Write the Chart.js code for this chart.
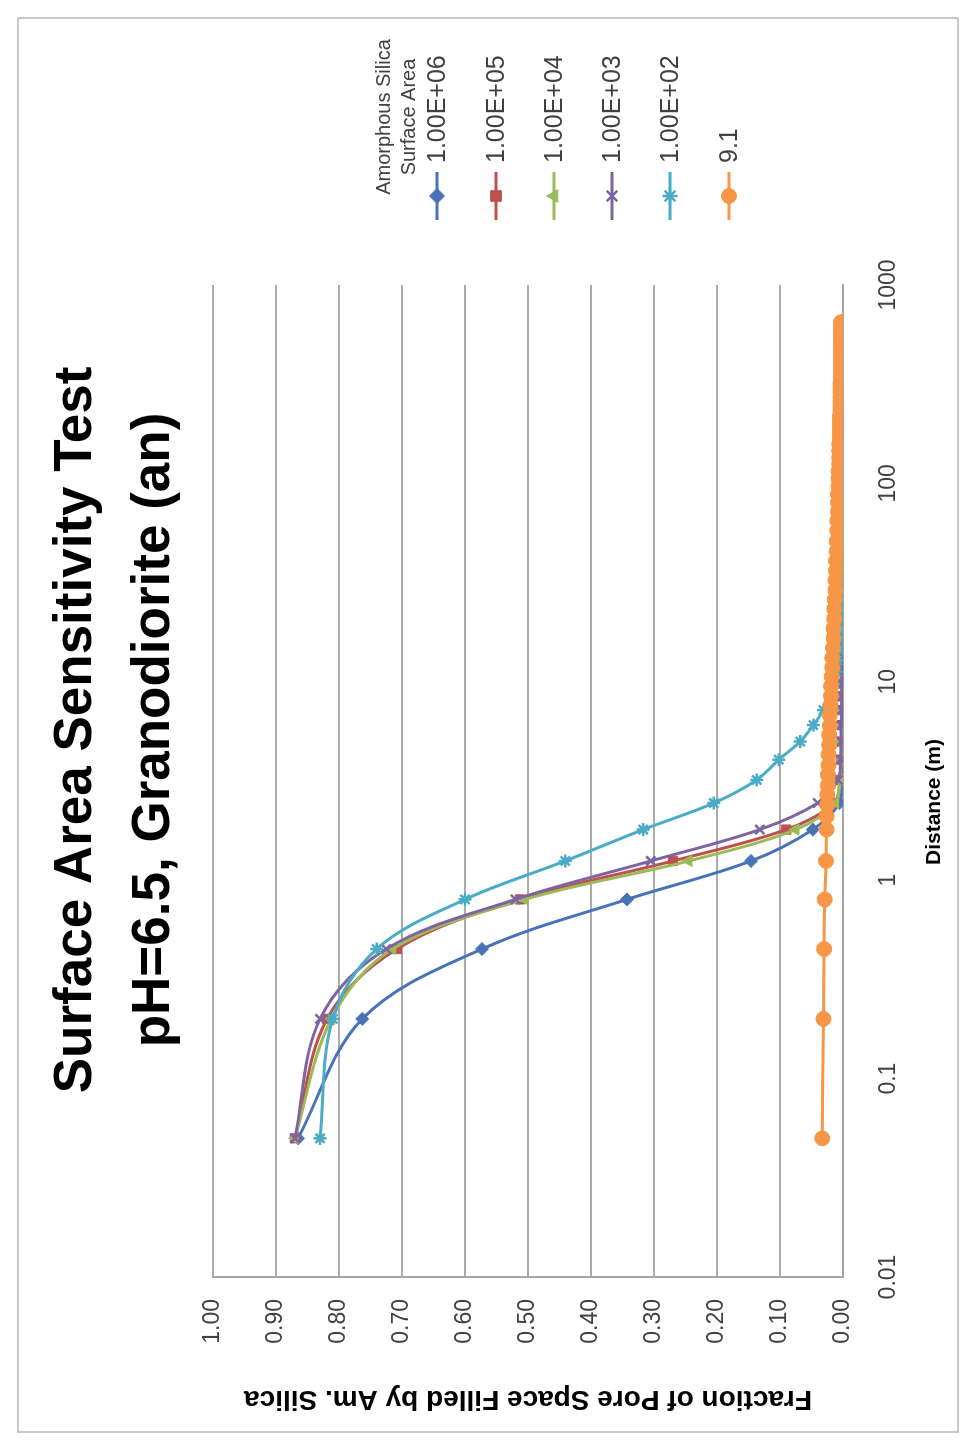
<!DOCTYPE html>
<html>
<head>
<meta charset="utf-8">
<script src="https://cdn.jsdelivr.net/npm/chart.js@4.4.1/dist/chart.umd.min.js"></script>
<style>
  html, body { margin:0; padding:0; background:#fff; }
  body { width:976px; height:1446px; position:relative; overflow:hidden; }
  /* chart is drawn landscape, then turned a quarter left like the scan */
  #wrap {
    position:absolute; left:0; top:0; width:1446px; height:976px;
    transform-origin:0 0; transform:translate(0,1446px) rotate(-90deg);
  }
</style>
</head>
<body>
<div id="wrap"><canvas id="chart" width="1446" height="976"></canvas></div>
<script>
// distance from source (m) for the five large surface areas
const distance = [0.05, 0.2, 0.45, 0.8, 1.25, 1.8, 2.45, 3.2, 4.05, 5, 6.05, 7.2, 8.45, 9.8, 11.25, 12.8, 14.45, 16.2, 18.05, 20,
  22.05, 24.2, 26.45, 28.8, 31.25, 33.8, 36.45, 39.2, 42.05];
// the 9.1 run is sampled much finer and runs further
const distance91 = [0.05, 0.2, 0.45, 0.8, 1.25, 1.8,
  2.1, 2.4, 2.7, 3.0, 3.4, 3.8, 4.3, 4.8, 5.4, 6.0,
  6.8, 7.6, 8.5, 9.5, 10.6, 11.8, 13.2, 14.8, 16.6, 18.6,
  20.8, 23.3, 26, 29, 32.5, 36.4, 40.7, 45.5,
  51.2, 57.8, 64.8, 72.2, 80, 88.2, 96.8, 105.8, 115.2, 125,
  135.2, 145.8, 156.8, 168.2, 180, 192.2, 204.8, 217.8, 231.2, 245, 259.2, 273.8, 288.8, 304.2, 320, 336.2, 352.8, 369.8, 387.2, 405,
  423.2, 441.8, 460.8, 480.2, 500, 520.2, 540.8, 561.8, 583.2, 605, 627.2, 649.8];

// fraction of pore space filled, one list per surface area
const sa1e6 = [0.865, 0.763, 0.573, 0.343, 0.146, 0.048, 0.006, 0.003, 0.002, 0.002, 0.001, 0.001, 0.001, 0.001, 0.001, 0.001, 0.001, 0.001, 0.001, 0.001,
  0.001, 0.001, 0.001, 0.001, 0.001, 0.001, 0.001, 0.001, 0.001];
const sa1e5 = [0.87, 0.819, 0.708, 0.513, 0.27, 0.09, 0.014, 0.005, 0.003, 0.002, 0.002, 0.002, 0.002, 0.001, 0.001, 0.001, 0.001, 0.001, 0.001, 0.001,
  0.001, 0.001, 0.001, 0.001, 0.001, 0.001, 0.001, 0.001, 0.001];
const sa1e4 = [0.87, 0.812, 0.715, 0.505, 0.245, 0.075, 0.012, 0.005, 0.003, 0.003, 0.002, 0.002, 0.002, 0.002, 0.002, 0.002, 0.002, 0.002, 0.002, 0.002,
  0.002, 0.002, 0.002, 0.002, 0.002, 0.002, 0.002, 0.002, 0.002];
const sa1e3 = [0.87, 0.83, 0.725, 0.52, 0.305, 0.132, 0.04, 0.008, 0.004, 0.003, 0.003, 0.002, 0.002, 0.002, 0.002, 0.002, 0.002, 0.002, 0.002, 0.002,
  0.002, 0.002, 0.002, 0.002, 0.002, 0.002, 0.002, 0.002, 0.002];
const sa1e2 = [0.83, 0.81, 0.74, 0.60, 0.441, 0.317, 0.205, 0.137, 0.102, 0.068, 0.047, 0.031, 0.021, 0.015, 0.011, 0.009, 0.007, 0.006, 0.005, 0.004,
  0.004, 0.003, 0.003, 0.003, 0.002, 0.002, 0.002, 0.002, 0.002];
const sa9p1 = [0.033, 0.031, 0.030, 0.029, 0.027, 0.026,
  0.026, 0.025, 0.025, 0.024, 0.024, 0.023, 0.023, 0.022, 0.022, 0.021,
  0.021, 0.020, 0.019, 0.019, 0.018, 0.017, 0.017, 0.016, 0.015, 0.015,
  0.014, 0.014, 0.013, 0.012, 0.012, 0.011, 0.011, 0.010,
  0.010, 0.009, 0.009, 0.008, 0.008, 0.008, 0.007, 0.007, 0.007, 0.006,
  0.006, 0.006, 0.006, 0.005, 0.005, 0.005, 0.005, 0.005, 0.004, 0.004, 0.004, 0.004, 0.004, 0.004, 0.004, 0.003, 0.003, 0.003, 0.003, 0.003,
  0.003, 0.003, 0.003, 0.003, 0.003, 0.003, 0.003, 0.003, 0.003, 0.003, 0.003, 0.003];

const seriesNames = ["1.00E+06", "1.00E+05", "1.00E+04", "1.00E+03", "1.00E+02", "9.1"];
const seriesValues = [sa1e6, sa1e5, sa1e4, sa1e3, sa1e2, sa9p1];
const seriesDistance = [distance, distance, distance, distance, distance, distance91];
const seriesColors = ["#4a72b8", "#c0504d", "#9bbb59", "#8064a2", "#4bacc6", "#f79646"];
const seriesMarkers = ["rectRot", "rect", "triangle", "crossRot", "star", "circle"];

const xTickValues = [0.01, 0.1, 1, 10, 100, 1000];
const chartTitle = ["Surface Area Sensitivity Test", "pH=6.5, Granodiorite (an)"];
const legendTitle = ["Amorphous Silica", "Surface Area"];
const xTitle = "Distance (m)";

const FONT = "'Liberation Sans', Arial, sans-serif";

const datasets = seriesValues.map((vals, i) => ({
  label: seriesNames[i],
  data: vals.map((v, j) => ({x: seriesDistance[i][j], y: v})),
  borderColor: seriesColors[i],
  backgroundColor: seriesColors[i],
  pointBackgroundColor: seriesColors[i],
  pointBorderColor: seriesColors[i],
  pointStyle: seriesMarkers[i],
  pointRadius: i == 5 ? 7.5 : 6.5,
  pointBorderWidth: (i == 3 || i == 4) ? 2.5 : 1,
  borderWidth: 3,
  tension: 0.35,
  order: 6 - i
}));

// title, legend, x title and outer frame
const decor = {
  id: "decor",
  afterDraw(chart){
    const ctx = chart.ctx;
    ctx.save();
    ctx.strokeStyle = "#c9c9c9";
    ctx.lineWidth = 2;
    ctx.strokeRect(14, 18, 1414, 940);

    ctx.fillStyle = "#000";
    ctx.textAlign = "center";
    ctx.textBaseline = "middle";
    ctx.font = "bold 53px " + FONT;
    ctx.fillText(chartTitle[0], 716, 76);
    ctx.fillText(chartTitle[1], 716, 154);

    ctx.font = "bold 21px " + FONT;
    ctx.fillText(xTitle, 644, 934);

    ctx.fillStyle = "#404040";
    ctx.font = "20px " + FONT;
    ctx.fillText(legendTitle[0], 1329, 384);
    ctx.fillText(legendTitle[1], 1329, 409);

    const ys = [437, 496, 554, 612, 670, 729];
    seriesNames.forEach((name, i) => {
      const y = ys[i];
      ctx.strokeStyle = seriesColors[i];
      ctx.fillStyle = seriesColors[i];
      ctx.lineWidth = 3;
      ctx.beginPath();
      ctx.moveTo(1226, y);
      ctx.lineTo(1274, y);
      ctx.stroke();
      ctx.lineWidth = (i == 3 || i == 4) ? 2.5 : 1;
      Chart.helpers.drawPoint(ctx, {pointStyle: seriesMarkers[i], radius: 7.5, borderWidth: ctx.lineWidth, rotation: 0}, 1250, y);
      ctx.fillStyle = "#404040";
      ctx.textAlign = "left";
      ctx.font = "25px " + FONT;
      ctx.fillText(name, 1283, y + 1);
    });
    ctx.restore();
  }
};

new Chart(document.getElementById("chart"), {
  type: "line",
  data: {datasets},
  plugins: [decor],
  options: {
    responsive: false,
    animation: false,
    layout: {padding: {left: 0, top: 213, right: 285, bottom: 0}},
    plugins: {legend: {display: false}, title: {display: false}, tooltip: {enabled: false}},
    scales: {
      x: {
        type: "logarithmic",
        min: 0.01, max: 1000,
        afterBuildTicks: s => { s.ticks = xTickValues.map(v => ({value: v})); },
        afterFit: s => { s.height = 133; },
        grid: {display: false},
        border: {display: true, color: "#a6a6a6", width: 2},
        ticks: {
          autoSkip: false, maxRotation: 0, padding: 24, color: "#404040",
          font: {size: 23, family: FONT},
          callback: v => String(v)
        }
      },
      y: {
        min: 0, max: 1,
        afterFit: s => { s.width = 169; },
        grid: {color: "#ababab", lineWidth: 2, drawTicks: false},
        border: {display: true, color: "#a6a6a6", width: 2},
        ticks: {
          stepSize: 0.1, padding: 22, color: "#404040",
          font: {size: 23, family: FONT},
          callback: v => v.toFixed(2)
        },
        title: {display: true, text: "Fraction of Pore Space Filled by Am. Silica", color: "#000", font: {size: 28, weight: "bold", family: FONT}, padding: {top: 30}}
      }
    }
  }
});
</script>
</body>
</html>
